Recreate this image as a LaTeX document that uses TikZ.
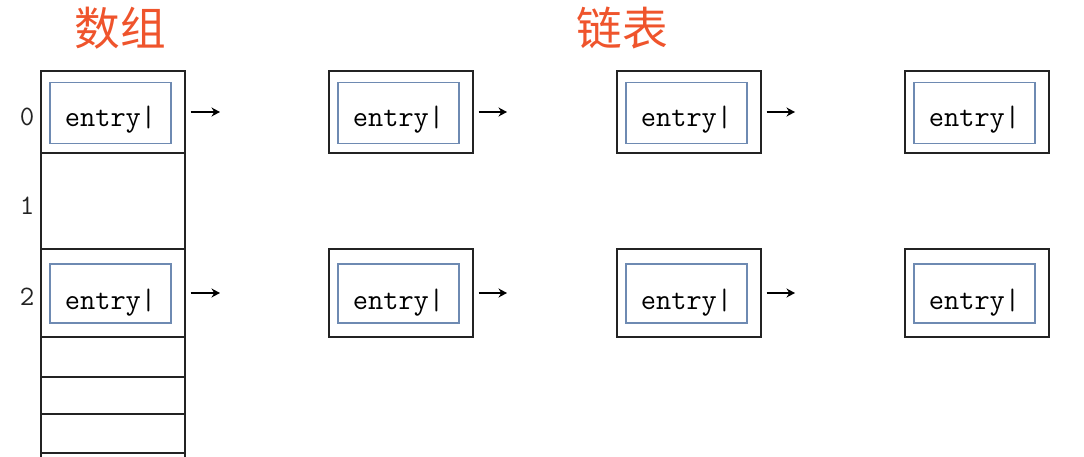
\documentclass[tikz,border=0pt]{standalone}
\usepackage{fontspec}
\newfontfamily\cjk{Noto Sans CJK SC}
\usepackage{tikz}
\usetikzlibrary{arrows.meta, positioning}
\definecolor{titlered}{RGB}{239,84,44}
\definecolor{entryblue}{RGB}{110,138,178}
\definecolor{boxgray}{RGB}{35,35,35}

\begin{document}
\begin{tikzpicture}[
    x=0.02cm, y=-0.02cm,
    cell/.style={draw=boxgray, line width=0.8pt, minimum width=2.88cm, inner sep=0pt},
    bucket/.style={cell, minimum height=1.64cm},
    lower/.style={cell, minimum height=1.76cm},
    entry/.style={draw=entryblue, line width=0.7pt, minimum width=2.42cm, minimum height=1.22cm, inner sep=0pt,
        text height=15pt, text depth=0pt, font=\ttfamily\fontsize{16.8}{18}\selectfont},
    entrylow/.style={entry, minimum height=1.18cm, text height=18pt},
    idx/.style={font=\ttfamily\fontsize{16}{18}\selectfont, text=boxgray},
    title/.style={font=\cjk\fontsize{26}{30}\selectfont, text=titlered},
    link/.style={-{Stealth[length=1.7mm, width=1.8mm]}, line width=0.8pt, shorten <=2.8pt}
]
    \useasboundingbox (0,0) rectangle (1084,456);
    \clip (0,0) rectangle (1084,456);

    % Titles
    \node[title] (arrtitle) at (120,28) {数组};
    \node[title] (listtitle) at (622,28) {链表};

    % Array
    \node[bucket] (cell0) at (113,112) {};
    \node[cell, minimum height=1.92cm] (cell1) at (113,201) {};
    \node[lower] (cell2) at (113,293) {};
    \node[cell, minimum height=0.8cm] (cell3) at (113,357) {};
    \node[cell, minimum height=0.74cm] (cell4) at (113,395.5) {};
    \node[cell, minimum height=0.78cm] (cell5) at (113,433.5) {};
    \node[cell, minimum height=0.8cm] (cell6) at (113,473) {};
    \node[entry] (e0) at (110.5,113) {entry|};
    \node[entrylow] (e2) at (110.5,293.5) {entry|};
    \node[idx] (i0) at (27,117) {0};
    \node[idx] (i1) at (27,206) {1};
    \node[idx] (i2) at (27,297) {2};

    % Chain of bucket 0
    \node[bucket] (n01) at (401,112) {};
    \node[bucket] (n02) at (689,112) {};
    \node[bucket] (n03) at (977,112) {};
    \node[entry] (e01) at (398.5,113) {entry|};
    \node[entry] (e02) at (686.5,113) {entry|};
    \node[entry] (e03) at (974.5,113) {entry|};

    % Chain of bucket 2
    \node[lower] (n21) at (401,293) {};
    \node[lower] (n22) at (689,293) {};
    \node[lower] (n23) at (977,293) {};
    \node[entrylow] (e21) at (398.5,293.5) {entry|};
    \node[entrylow] (e22) at (686.5,293.5) {entry|};
    \node[entrylow] (e23) at (974.5,293.5) {entry|};

    % Links
    \coordinate (t0) at (220,112);
    \coordinate (t01) at (507,112);
    \coordinate (t02) at (795,112);
    \coordinate (t2) at (220,293);
    \coordinate (t21) at (507,293);
    \coordinate (t22) at (795,293);
    \draw[link] (cell0) -- (t0);
    \draw[link] (n01) -- (t01);
    \draw[link] (n02) -- (t02);
    \draw[link] (cell2) -- (t2);
    \draw[link] (n21) -- (t21);
    \draw[link] (n22) -- (t22);
\end{tikzpicture}
\end{document}
